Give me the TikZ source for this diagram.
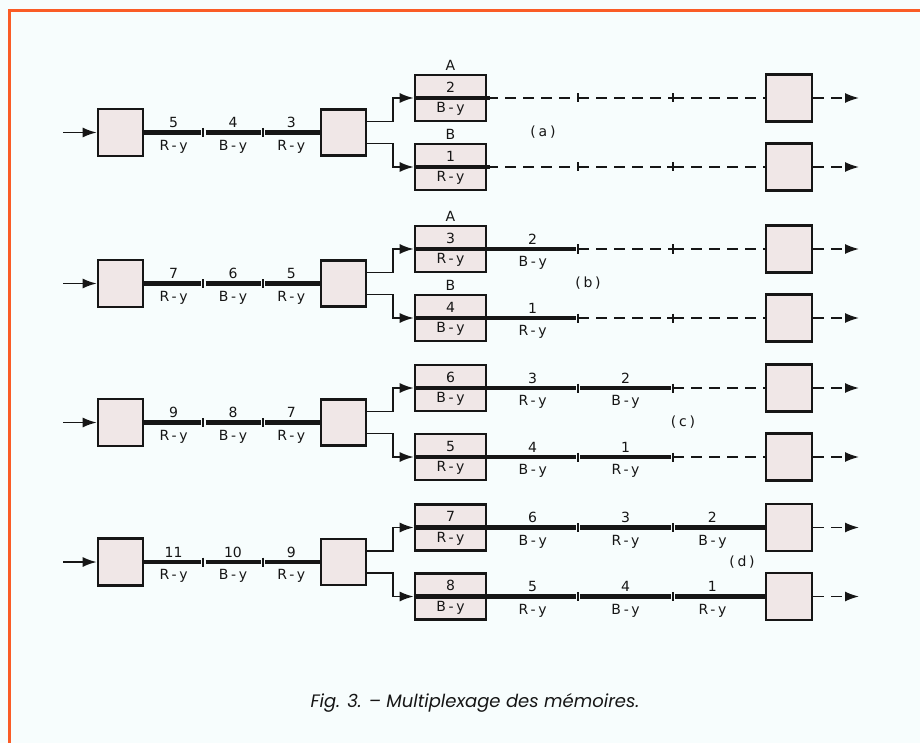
\documentclass[tikz,border=0pt]{standalone}
\usepackage{fontspec}
\usetikzlibrary{arrows.meta}
\newfontfamily\lblfont[LetterSpace=20]{DejaVu Sans}
\newfontfamily\numfont{DejaVu Sans}
\newfontfamily\capfont{Poppins}
\definecolor{bgc}{RGB}{247,253,253}
\definecolor{boxf}{RGB}{240,231,231}
\definecolor{framec}{RGB}{250,92,38}
\definecolor{ink}{RGB}{22,22,22}
\tikzset{
  blk/.style={draw=ink, line width=2.6pt, fill=boxf, inner sep=0pt, minimum width=45pt, minimum height=47pt},
  mem/.style={blk, minimum width=71pt, minimum height=46pt},
  sig/.style={draw=ink, line width=4.3pt},
  conn/.style={draw=ink, line width=1.7pt},
  dsh/.style={draw=ink, line width=1.7pt, dash pattern=on 11pt off 7pt},
  tickl/.style={draw=ink, line width=1.7pt},
  arr/.style={-{Latex[length=14pt,width=10pt]}},
  lbl/.style={text=ink, font=\lblfont\fontsize{14}{16}\selectfont, inner sep=0pt},
  nlbl/.style={text=ink, font=\numfont\fontsize{14}{16}\selectfont, inner sep=0pt},
  numl/.style={nlbl, yshift=10pt},
  lbll/.style={lbl, yshift=-14pt},
}
\newcommand\mkrow[9]{%
\begin{scope}[shift={(0,#2)}]
  \node[blk] (#1in) at (120.5,0) {};
  \coordinate (#1s) at (63,0);
  \draw[conn,arr] (#1s) -- (#1in.west);
  \coordinate (#1t1) at (203,0);
  \coordinate (#1t2) at (263,0);
  \node[blk, minimum height=46pt] (#1mux) at (343.5,0) {};
  \draw[sig, shorten >=2.5pt] (#1in.east) -- node[numl]{#3} node[lbll]{R-y} (#1t1);
  \draw[tickl] (#1t1) ++(0,-4.5) -- ++(0,9);
  \draw[sig, shorten <=2.5pt, shorten >=2pt] (#1t1) -- node[numl]{#4} node[lbll]{B-y} (#1t2);
  \draw[tickl] (#1t2) ++(0,-4.5) -- ++(0,9);
  \draw[sig, shorten <=2pt] (#1t2) -- node[numl]{#5} node[lbll]{R-y} (#1mux.west);
  \node[mem] (#1mu) at (450.5,-34.5) {};
  \node[mem] (#1ml) at (450.5,34.5) {};
  \draw[sig] (#1mu.west) -- (#1mu.east);
  \draw[sig] (#1ml.west) -- (#1ml.east);
  \node[nlbl] (#1mun) at ([yshift=11pt]#1mu.center) {#6};
  \node[lbl] (#1mul) at ([yshift=-11pt]#1mu.center) {#7};
  \node[nlbl] (#1mln) at ([yshift=11pt]#1ml.center) {#8};
  \node[lbl] (#1mll) at ([yshift=-11pt]#1ml.center) {#9};
  \draw[conn,arr] ([yshift=11pt]#1mux.east) -- ++(26,0) |- (#1mu.west);
  \draw[conn,arr] ([yshift=-11pt]#1mux.east) -- ++(26,0) |- (#1ml.west);
  \node[blk, minimum width=46pt] (#1ou) at (789,-34.5) {};
  \node[blk, minimum width=46pt] (#1ol) at (789,34.5) {};
  \coordinate (#1eu) at (859,-34.5);
  \coordinate (#1el) at (859,34.5);
  \draw[dsh,arr] (#1ou.east) -- (#1eu);
  \draw[dsh,arr] (#1ol.east) -- (#1el);
  \coordinate (#1u3) at (578,-34.5);
  \coordinate (#1u4) at (673,-34.5);
  \coordinate (#1l3) at (578,34.5);
  \coordinate (#1l4) at (673,34.5);
\end{scope}}
\begin{document}
\begin{tikzpicture}[x=1pt,y=-1pt]
\useasboundingbox (0,0) rectangle (920,743);
\fill[bgc] (0,0) rectangle (920,743);
\draw[framec, line width=3pt] (9.5,743) -- (9.5,10.5) -- (920,10.5);

% row (a)
\mkrow{a}{132.5}{5}{4}{3}{2}{B-y}{1}{R-y}
\node[lbl] (aA) at ([yshift=33pt]amu.center) {A};
\node[lbl] (aB) at ([yshift=33pt]aml.center) {B};
\node[lbl] (alab) at (543,132.5) {(a)};
\draw[sig] (amu.east) -- ++(3,0);
\draw[sig] (aml.east) -- ++(3,0);
\draw[dsh] (amu.east) -- (au3);
\draw[tickl] (au3) ++(0,-4.5) -- ++(0,9);
\draw[dsh] (au3) -- (au4);
\draw[tickl] (au4) ++(0,-4.5) -- ++(0,9);
\draw[dsh] (au4) -- (aou.west);
\draw[dsh] (aml.east) -- (al3);
\draw[tickl] (al3) ++(0,-4.5) -- ++(0,9);
\draw[dsh] (al3) -- (al4);
\draw[tickl] (al4) ++(0,-4.5) -- ++(0,9);
\draw[conn] (al4) ++(-6,0) -- ++(12,0);
\draw[dsh] (al4) -- (aol.west);

% row (b)
\mkrow{b}{283.5}{7}{6}{5}{3}{R-y}{4}{B-y}
\node[lbl] (bA) at ([yshift=33pt]bmu.center) {A};
\node[lbl] (bB) at ([yshift=33pt]bml.center) {B};
\node[lbl] (blab) at (588,283.5) {(b)};
\draw[sig, shorten >=2pt] (bmu.east) -- node[numl]{2} node[lbll]{B-y} (bu3);
\draw[tickl] (bu3) ++(0,-4.5) -- ++(0,9);
\draw[dsh] (bu3) -- (bu4);
\draw[tickl] (bu4) ++(0,-4.5) -- ++(0,9);
\draw[dsh] (bu4) -- (bou.west);
\draw[sig, shorten >=2pt] (bml.east) -- node[numl]{1} node[lbll]{R-y} (bl3);
\draw[tickl] (bl3) ++(0,-4.5) -- ++(0,9);
\draw[dsh] (bl3) -- (bl4);
\draw[tickl] (bl4) ++(0,-4.5) -- ++(0,9);
\draw[conn] (bl4) ++(-6,0) -- ++(12,0);
\draw[dsh] (bl4) -- (bol.west);

% row (c)
\mkrow{c}{422.5}{9}{8}{7}{6}{B-y}{5}{R-y}
\node[lbl] (clab) at (683,422.5) {(c)};
\draw[sig, shorten >=2pt] (cmu.east) -- node[numl]{3} node[lbll]{R-y} (cu3);
\draw[tickl] (cu3) ++(0,-4.5) -- ++(0,9);
\draw[sig, shorten <=2pt, shorten >=2pt] (cu3) -- node[numl]{2} node[lbll]{B-y} (cu4);
\draw[tickl] (cu4) ++(0,-4.5) -- ++(0,9);
\draw[dsh] (cu4) -- (cou.west);
\draw[sig, shorten >=2pt] (cml.east) -- node[numl]{4} node[lbll]{B-y} (cl3);
\draw[tickl] (cl3) ++(0,-4.5) -- ++(0,9);
\draw[sig, shorten <=2pt, shorten >=2pt] (cl3) -- node[numl]{1} node[lbll]{R-y} (cl4);
\draw[tickl] (cl4) ++(0,-4.5) -- ++(0,9);
\draw[dsh] (cl4) -- (col.west);

% row (d)
\mkrow{d}{562}{11}{10}{9}{7}{R-y}{8}{B-y}
\node[lbl] (dlab) at (742,562) {(d)};
\draw[sig, shorten >=2pt] (dmu.east) -- node[numl]{6} node[lbll]{B-y} (du3);
\draw[tickl] (du3) ++(0,-4.5) -- ++(0,9);
\draw[sig, shorten <=2pt, shorten >=2pt] (du3) -- node[numl]{3} node[lbll]{R-y} (du4);
\draw[tickl] (du4) ++(0,-4.5) -- ++(0,9);
\draw[sig, shorten <=2pt] (du4) -- node[numl, pos=0.43]{2} node[lbll, pos=0.43]{B-y} (dou.west);
\draw[sig, shorten >=2pt] (dml.east) -- node[numl]{5} node[lbll]{R-y} (dl3);
\draw[tickl] (dl3) ++(0,-4.5) -- ++(0,9);
\draw[sig, shorten <=2pt, shorten >=2pt] (dl3) -- node[numl]{4} node[lbll]{B-y} (dl4);
\draw[tickl] (dl4) ++(0,-4.5) -- ++(0,9);
\draw[sig, shorten <=2pt] (dl4) -- node[numl, pos=0.43]{1} node[lbll, pos=0.43]{R-y} (dol.west);

% caption
\node[text=ink, font=\capfont\itshape\fontsize{18}{21}\selectfont, inner sep=0pt] (cap) at (475,703) {Fig. 3. – Multiplexage des mémoires.};
\end{tikzpicture}
\end{document}
